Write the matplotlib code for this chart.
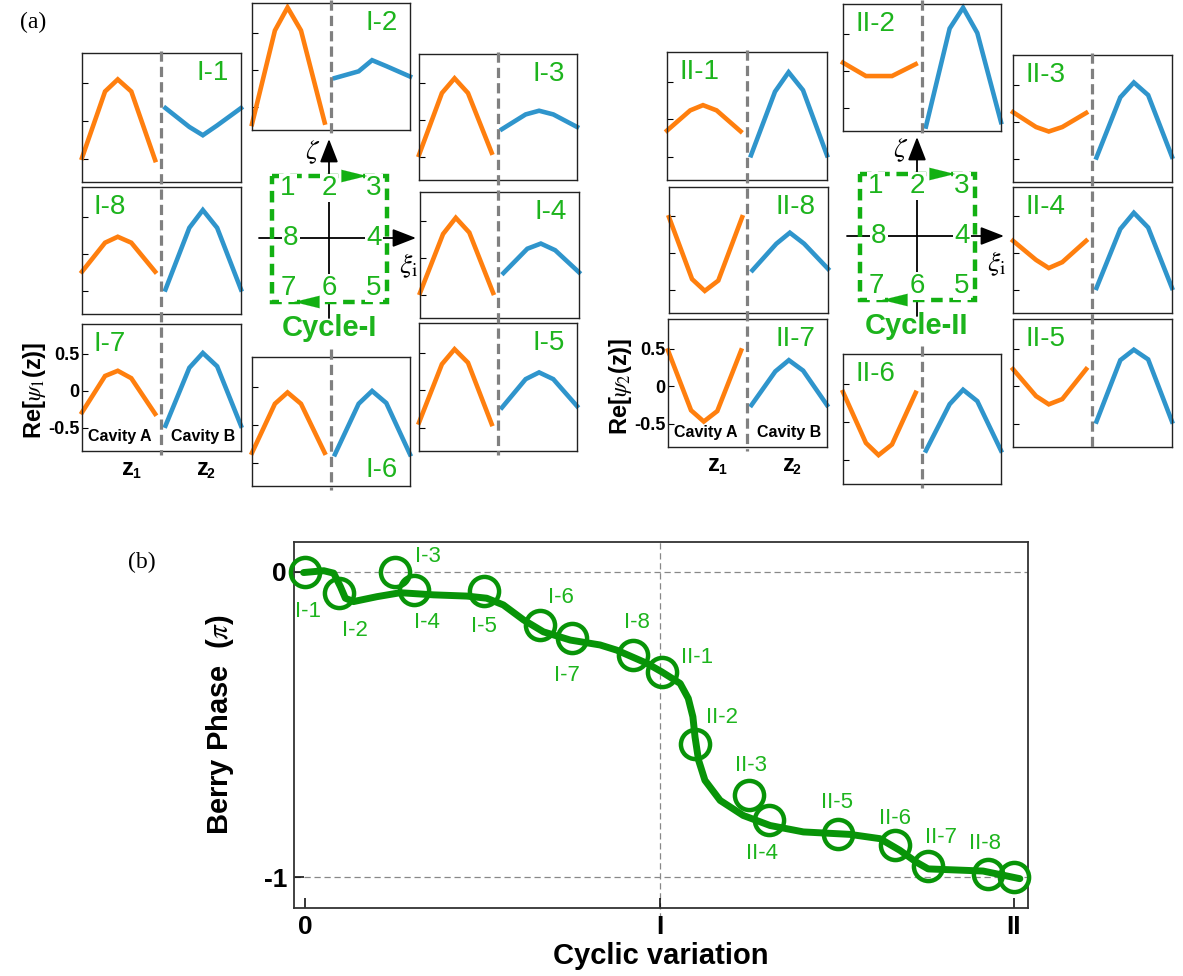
import matplotlib
matplotlib.use("Agg")
import matplotlib.pyplot as plt
from matplotlib.patches import Rectangle

plt.rcParams['font.family'] = ['Liberation Sans', 'DejaVu Sans']
plt.rcParams['mathtext.fontset'] = 'stix'

W, H = 1183, 976
ORANGE = '#ff7f0e'
BLUE = '#2f95cc'
GREEN_TXT = '#1db41d'
GREEN_BOX = '#12b012'
GREEN_DARK = '#089408'
GREY = '#808080'

# ---- (a) Re[psi(z)] sampled along cavity A (z1) and cavity B (z2)
z1 = [0.0, 0.29, 0.45, 0.62, 0.92]
z2 = [1.05, 1.35, 1.52, 1.70, 2.0]

cycle1_cavA = [
    [-0.49, 0.39, 0.55, 0.39, -0.52],   # I-1
    [-0.73, 0.53, 0.84, 0.53, -0.71],   # I-2
    [-0.47, 0.37, 0.57, 0.37, -0.44],   # I-3
    [-0.47, 0.33, 0.55, 0.35, -0.47],   # I-4
    [-0.43, 0.35, 0.55, 0.37, -0.45],   # I-5
    [-0.37, 0.28, 0.43, 0.28, -0.37],   # I-6
    [-0.29, 0.20, 0.27, 0.17, -0.31],   # I-7
    [-0.24, 0.15, 0.23, 0.15, -0.24],   # I-8
]
cycle1_cavB = [
    [0.17, -0.08, -0.19, -0.06, 0.17],
    [-0.11, -0.02, 0.13, 0.05, -0.09],
    [-0.12, 0.08, 0.13, 0.08, -0.09],
    [-0.20, 0.13, 0.20, 0.11, -0.19],
    [-0.23, 0.15, 0.24, 0.15, -0.21],
    [-0.39, 0.28, 0.45, 0.29, -0.39],
    [-0.47, 0.31, 0.51, 0.33, -0.47],
    [-0.48, 0.35, 0.59, 0.35, -0.48],
]
cycle2_cavA = [
    [-0.15, 0.12, 0.19, 0.12, -0.16],   # II-1
    [0.11, -0.07, -0.07, -0.07, 0.09],  # II-2
    [0.13, -0.07, -0.13, -0.07, 0.12],  # II-3
    [0.17, -0.09, -0.20, -0.12, 0.17],  # II-4
    [0.23, -0.13, -0.24, -0.17, 0.23],  # II-5
    [0.40, -0.27, -0.43, -0.29, 0.39],  # II-6
    [0.48, -0.32, -0.47, -0.33, 0.48],  # II-7
    [0.49, -0.35, -0.51, -0.37, 0.49],  # II-8
]
cycle2_cavB = [
    [-0.48, 0.37, 0.63, 0.39, -0.48],
    [-0.75, 0.57, 0.85, 0.51, -0.69],
    [-0.48, 0.33, 0.53, 0.36, -0.47],
    [-0.47, 0.33, 0.55, 0.35, -0.47],
    [-0.47, 0.35, 0.49, 0.36, -0.47],
    [-0.37, 0.24, 0.43, 0.28, -0.37],
    [-0.25, 0.20, 0.35, 0.21, -0.25],
    [-0.23, 0.13, 0.28, 0.13, -0.21],
]
psi_ticks = [0.5, 0.0, -0.5]
psi_ticklabels = ['0.5', '0', '-0.5']

# ---- (b) Berry phase along the cyclic variation
step_names = ['I-1', 'I-2', 'I-3', 'I-4', 'I-5', 'I-6', 'I-7', 'I-8',
              'II-1', 'II-2', 'II-3', 'II-4', 'II-5', 'II-6', 'II-7', 'II-8', '']
step_x = [0.0, 0.094, 0.254, 0.306, 0.503, 0.663, 0.752, 0.926,
          1.006, 1.10, 1.253, 1.31, 1.504, 1.664, 1.758, 1.927, 2.0]
berry = [0.0, -0.07, 0.0, -0.059, -0.064, -0.174, -0.217, -0.272,
         -0.327, -0.562, -0.729, -0.813, -0.857, -0.895, -0.961, -0.988, -1.0]
curve_x = [-0.005, 0.052, 0.08, 0.099, 0.113, 0.136, 0.202, 0.268, 0.362,
           0.456, 0.512, 0.559, 0.616, 0.672, 0.748, 0.832, 0.879, 0.964,
           1.006, 1.058, 1.081, 1.094, 1.100, 1.110, 1.128, 1.171, 1.236,
           1.312, 1.406, 1.537, 1.622, 1.678, 1.725, 1.758, 1.913, 2.017]
curve_y = [-0.002, 0.004, -0.004, -0.048, -0.086, -0.097, -0.081, -0.068, -0.075,
           -0.079, -0.086, -0.108, -0.157, -0.196, -0.223, -0.239, -0.256, -0.299,
           -0.327, -0.365, -0.414, -0.474, -0.540, -0.616, -0.682, -0.748, -0.797,
           -0.830, -0.851, -0.859, -0.873, -0.911, -0.950, -0.972, -0.979, -1.004]
x_ticks = [0, 1, 2]
x_ticklabels = ['0', 'I', 'II']
y_ticks = [0, -1]
y_ticklabels = ['0', '-1']

# ---- layout (pixel boxes: left, top, right, bottom) for steps 1..8
boxes1 = [(82, 53, 241, 182), (252, 3, 410, 130), (419, 54, 577, 180),
          (420, 192, 579, 318), (419, 323, 577, 451), (252, 357, 410, 486),
          (82, 324, 241, 451), (82, 187, 241, 314)]
boxes2 = [(667, 52, 827, 180), (843, 4, 1001, 131), (1013, 55, 1172, 182),
          (1013, 187, 1172, 313), (1013, 319, 1172, 447), (843, 354, 1001, 484),
          (668, 319, 827, 447), (669, 187, 828, 313)]
corners1 = ['ur', 'ur', 'ur', 'ur', 'ur', 'lr', 'ul', 'ul']
corners2 = ['ul', 'ul', 'ul', 'ul', 'ul', 'ul', 'ur', 'ur']
label_off = [(3, -40), (16, -37), (33, 15), (13, -33), (0, -35), (21, 28),
             (-5, -37), (4, 33), (35, 14), (27, 26), (2, 29), (-7, -33),
             (-1, 31), (0, 27), (13, 28), (-3, 30), (0, 0)]


def px_box(l, t, r, b):
    return [l / W, 1 - b / H, (r - l) / W, (b - t) / H]


fig = plt.figure(figsize=(W / 100, H / 100), dpi=100)


def draw_group(roman, boxes, corners, cav_a, cav_b, ylabel_sub):
    axes = []
    for i, (box, corner) in enumerate(zip(boxes, corners)):
        ax = fig.add_axes(px_box(*box))
        ax.plot(z1, cav_a[i], color=ORANGE, lw=3.3, clip_on=False,
                solid_joinstyle='miter')
        ax.plot(z2, cav_b[i], color=BLUE, lw=3.3, clip_on=False,
                solid_joinstyle='miter')
        ax.set_xlim(0, 2)
        ax.set_ylim(-0.81, 0.9)
        ax.set_xticks([])
        ax.set_yticks(psi_ticks)
        ax.tick_params(axis='y', direction='in', length=4, width=0.8,
                       labelleft=False, pad=2)
        for s in ax.spines.values():
            s.set_linewidth(1.0)
            s.set_color('#222222')
        ax.patch.set_alpha(0)
        name = f'{roman}-{i + 1}'
        if corner == 'ur':
            xy, off, ha, va = (1, 1), (-12, -7), 'right', 'top'
        elif corner == 'ul':
            xy, off, ha, va = (0, 1), (12, -7), 'left', 'top'
        else:
            xy, off, ha, va = (1, 0), (-12, 3), 'right', 'bottom'
        ax.annotate(name, xy=xy, xycoords='axes fraction', xytext=off,
                    textcoords='offset pixels', ha=ha, va=va,
                    fontsize=20, color=GREEN_TXT)
        axes.append(ax)
    # labelled panel (step 7)
    ax7 = axes[6]
    ax7.tick_params(axis='y', labelleft=True)
    ax7.set_yticklabels(psi_ticklabels, fontsize=13, fontweight='bold')
    ax7.text(0.47, -0.62, 'Cavity A', ha='center', va='center',
             fontsize=11.5, fontweight='bold')
    ax7.text(1.52, -0.62, 'Cavity B', ha='center', va='center',
             fontsize=11.5, fontweight='bold')
    ax7.text(0.58, -1.04, 'z', ha='center', va='center', fontsize=17,
             fontweight='bold', clip_on=False)
    ax7.text(0.68, -1.12, '1', ha='center', va='center', fontsize=10,
             fontweight='bold', clip_on=False)
    ax7.text(1.52, -1.04, 'z', ha='center', va='center', fontsize=17,
             fontweight='bold', clip_on=False)
    ax7.text(1.62, -1.12, '2', ha='center', va='center', fontsize=10,
             fontweight='bold', clip_on=False)
    ax7.text(-0.6, 0.0, 'Re[$\\psi_' + ylabel_sub + '$(z)]', rotation=90,
             ha='center', va='center', fontsize=17, fontweight='bold',
             clip_on=False)
    return axes


draw_group('I', boxes1, corners1, cycle1_cavA, cycle1_cavB, '1')
draw_group('II', boxes2, corners2, cycle2_cavA, cycle2_cavB, '2')

# ---- overlay for dashed column lines and the cycle diagrams
ov = fig.add_axes([0, 0, 1, 1])
ov.set_xlim(0, W)
ov.set_ylim(H, 0)
ov.axis('off')
ov.patch.set_alpha(0)

dash_kw = dict(color=GREY, lw=2.3, ls=(0, (3.2, 1.6)))


def column_lines(boxes):
    left = [boxes[0], boxes[7], boxes[6]]
    right = [boxes[2], boxes[3], boxes[4]]
    for col in (left, right):
        x = (col[0][0] + col[0][2]) / 2
        ov.plot([x, x], [col[0][1] - 2, col[2][3] + 4], **dash_kw)
    top, bot = boxes[1], boxes[5]
    x = (top[0] + top[2]) / 2
    ov.plot([x, x], [0, top[3] + 5], **dash_kw)
    ov.plot([x, x], [bot[1] - 8, bot[3] + 4], **dash_kw)


column_lines(boxes1)
column_lines(boxes2)


def cycle_diagram(cx, cy, title):
    ov.annotate('', xy=(cx, cy - 99), xytext=(cx, cy + 80),
                arrowprops=dict(arrowstyle='-|>,head_length=0.9,head_width=0.35',
                                color='black', lw=1.3, shrinkA=0, shrinkB=0,
                                mutation_scale=16))
    ov.annotate('', xy=(cx + 87, cy), xytext=(cx - 70, cy),
                arrowprops=dict(arrowstyle='-|>,head_length=0.9,head_width=0.35',
                                color='black', lw=1.3, shrinkA=0, shrinkB=0,
                                mutation_scale=16))
    ov.add_patch(Rectangle((cx - 57, cy - 62), 115, 126, fill=False,
                           ec=GREEN_BOX, lw=3.2, ls=(0, (2.6, 1.5)), zorder=3))
    for (dx, dy), n in zip([(-41, -50), (0, -50), (45, -50), (45, 0),
                            (45, 50), (0, 50), (-41, 50), (-38, 0)],
                           '12345678'):
        ov.text(cx + dx, cy + dy, n, ha='center', va='center', fontsize=20,
                color=GREEN_TXT, zorder=4,
                bbox=dict(fc='white', ec='none', pad=0.5))
    head = '-|>,head_length=1.3,head_width=0.32'
    ov.annotate('', xy=(cx + 38, cy - 62), xytext=(cx + 18, cy - 62),
                arrowprops=dict(arrowstyle=head, color=GREEN_BOX, lw=0.1,
                                shrinkA=0, shrinkB=0, mutation_scale=14),
                zorder=5)
    ov.annotate('', xy=(cx - 35, cy + 64), xytext=(cx - 15, cy + 64),
                arrowprops=dict(arrowstyle=head, color=GREEN_BOX, lw=0.1,
                                shrinkA=0, shrinkB=0, mutation_scale=14),
                zorder=5)
    ov.text(cx - 16, cy - 86, r'$\zeta$', ha='center', va='center', fontsize=20)
    ov.text(cx + 80, cy + 28, r'$\xi_{\mathrm{i}}$', ha='center', va='center',
            fontsize=20)
    ov.text(cx, cy + 90, title, ha='center', va='center', fontsize=21,
            fontweight='bold', color=GREEN_TXT)


cycle_diagram(329, 238, 'Cycle-I')
cycle_diagram(917, 236, 'Cycle-II')

ov.text(20, 22, '(a)', ha='left', va='center', fontsize=17,
        family='Liberation Serif')
ov.text(128, 562, '(b)', ha='left', va='center', fontsize=17,
        family='Liberation Serif')

# ---- (b) Berry phase
axb = fig.add_axes(px_box(294, 542, 1028, 908))
axb.axhline(0, color='#888888', lw=0.9, ls=(0, (5, 3)), zorder=1)
axb.axhline(-1, color='#888888', lw=0.9, ls=(0, (5, 3)), zorder=1)
axb.axvline(1, ymin=-0.03, ymax=1, color='#888888', lw=0.9, ls=(0, (5, 3)),
            zorder=1, clip_on=False)
axb.plot(curve_x, curve_y, color=GREEN_DARK, lw=5, solid_capstyle='round',
         solid_joinstyle='round', zorder=3, clip_on=False)
axb.plot(step_x, berry, ls='none', marker='o', ms=21, mfc='none',
         mec=GREEN_DARK, mew=3.2, zorder=4, clip_on=False)
for x, y, name, (dx, dy) in zip(step_x, berry, step_names, label_off):
    if name:
        axb.annotate(name, xy=(x, y), xytext=(dx, dy),
                     textcoords='offset pixels', ha='center', va='center',
                     fontsize=16, color=GREEN_TXT, zorder=5)
axb.set_xlim(-0.032, 2.04)
axb.set_ylim(-1.10, 0.098)
axb.set_xticks(x_ticks, x_ticklabels, fontsize=19, fontweight='bold')
axb.set_yticks(y_ticks, y_ticklabels, fontsize=19, fontweight='bold')
axb.tick_params(direction='in', length=7, width=1.1, pad=5)
for s in axb.spines.values():
    s.set_linewidth(1.3)
    s.set_color('#333333')
axb.set_xlabel('Cyclic variation', fontsize=21, fontweight='bold', labelpad=2)
axb.set_ylabel(r'Berry Phase  ($\pi$)', fontsize=21, fontweight='bold',
               labelpad=20)

fig.savefig('out.png', dpi=100)
